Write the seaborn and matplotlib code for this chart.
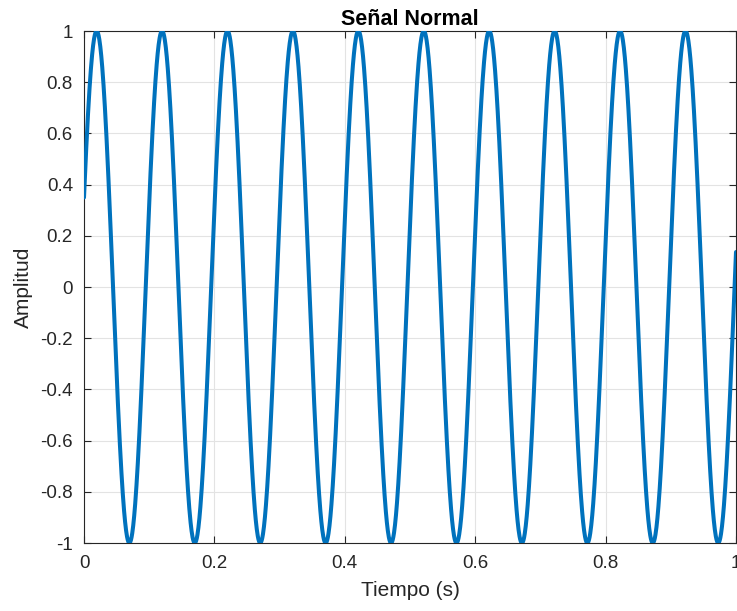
import numpy as np
import pandas as pd
import matplotlib
matplotlib.use("Agg")
import matplotlib.pyplot as plt
import seaborn as sns

# Signal parameters (sinusoid of unit amplitude)
amplitud = 1.0
frecuencia_hz = 9.965
fase_rad = 0.357
t_inicio, t_fin, n_muestras = 0.0, 1.0, 2001

x_ticks = [0, 0.2, 0.4, 0.6, 0.8, 1]
x_tick_labels = ["0", "0.2", "0.4", "0.6", "0.8", "1"]
y_ticks = [-1, -0.8, -0.6, -0.4, -0.2, 0, 0.2, 0.4, 0.6, 0.8, 1]
y_tick_labels = ["-1", "-0.8", "-0.6", "-0.4", "-0.2", "0", "0.2", "0.4", "0.6", "0.8", "1"]

t = np.linspace(t_inicio, t_fin, n_muestras)
senal = amplitud * np.sin(2 * np.pi * frecuencia_hz * t + fase_rad)
df = pd.DataFrame({"Tiempo": t, "Amplitud": senal})

sns.set_theme(style="whitegrid")
plt.rcParams["font.family"] = ["Liberation Sans", "DejaVu Sans"]
plt.rcParams["axes.unicode_minus"] = False

fig = plt.figure(figsize=(7.37, 6.11), dpi=100)
ax = fig.add_axes([84 / 737, 68 / 611, 652 / 737, 512 / 611])

sns.lineplot(data=df, x="Tiempo", y="Amplitud", ax=ax, color="#0072BD",
             linewidth=2.9, zorder=3)

ax.set_xlim(0, 1)
ax.set_ylim(-1, 1)
ax.set_xticks(x_ticks)
ax.set_xticklabels(x_tick_labels)
ax.set_yticks(y_ticks)
ax.set_yticklabels(y_tick_labels)

edge = "#262626"
for s in ax.spines.values():
    s.set_visible(True)
    s.set_color(edge)
    s.set_linewidth(0.8)
ax.set_facecolor("white")
ax.grid(True, color="#E3E3E3", linewidth=0.8)
ax.tick_params(axis="both", which="major", direction="in", length=5, width=0.8,
               color=edge, labelcolor=edge, labelsize=13.5,
               top=True, right=True, bottom=True, left=True)
ax.tick_params(axis="x", pad=9)
ax.tick_params(axis="y", pad=8)

ax.set_title("Señal Normal", fontsize=15.5, fontweight="bold", color="black", pad=4)
ax.set_xlabel("Tiempo (s)", fontsize=15, color=edge, labelpad=6)
ax.set_ylabel("Amplitud", fontsize=15, color=edge, labelpad=5)

fig.savefig("out.png", dpi=100)
